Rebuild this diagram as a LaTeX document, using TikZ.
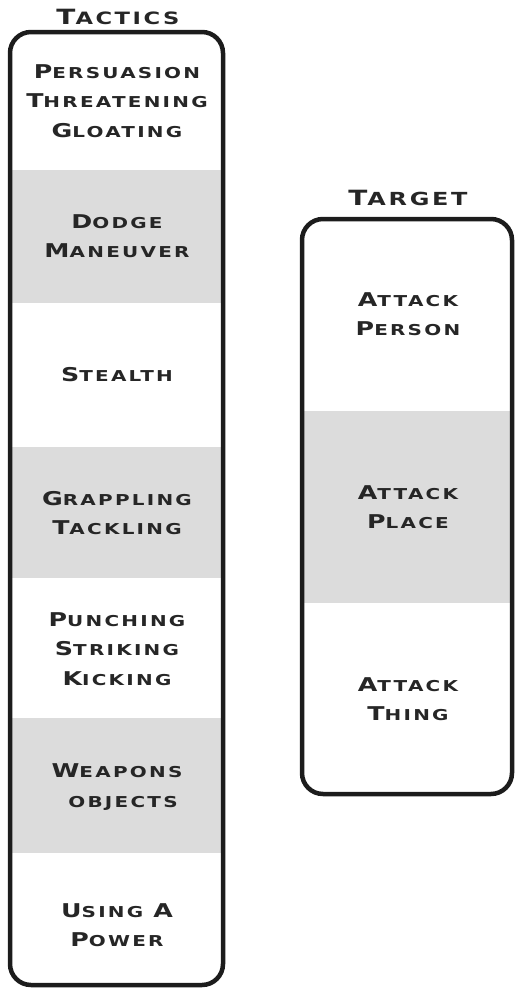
\documentclass[tikz,border=0pt]{standalone}
\usepackage{fontspec}
\newfontfamily\bank[FakeStretch=1.33,LetterSpace=15]{DejaVu Sans}
\definecolor{bandgray}{HTML}{DCDCDC}
\definecolor{ink}{HTML}{1C1C1C}
\definecolor{txt}{HTML}{262626}
\newcommand\bgw[2]{{\fontsize{19}{29}\selectfont #1}{\fontsize{15}{29}\selectfont #2}}
\newcommand\bgs[1]{{\fontsize{15}{29}\selectfont #1}}
\newcommand\bgt[4]{{\fontsize{#3}{#3}\selectfont #1}{\fontsize{#4}{#4}\selectfont #2}}
\begin{document}
\begin{tikzpicture}[x=1pt,y=-1pt,
  band/.style={fill=bandgray,draw=none},
  frame/.style={draw=ink,line width=4.5pt,rounded corners=21pt},
  lbl/.style={text=txt,align=center,font=\bank\bfseries\fontsize{15}{29.5}\selectfont,inner sep=0pt},
  ttl/.style={text=txt,font=\bank\bfseries,inner sep=0pt}]
\useasboundingbox (0,0) rectangle (515,991);
% left column bands
\fill[band] (10,170) rectangle (223,303);
\fill[band] (10,447) rectangle (223,578);
\fill[band] (10,718) rectangle (223,853);
\draw[frame] (10,32) rectangle (223,985);
% right column bands
\fill[band] (302,411) rectangle (512,603);
\draw[frame] (302,219) rectangle (512,794);
% titles
\node[ttl] (tactics) at (118,17) {\bgt{T}{ACTICS}{21}{17}};
\node[ttl] (target) at (408,198) {\bgt{T}{ARGET}{21}{18}};
% left labels
\node[lbl] (t1) at (117,101) {\bgw{P}{ERSUASION}\\\bgw{T}{HREATENING}\\\bgw{G}{LOATING}};
\node[lbl] (t2) at (117,236) {\bgw{D}{ODGE}\\\bgw{M}{ANEUVER}};
\node[lbl] (t3) at (117,375) {\bgw{S}{TEALTH}};
\node[lbl] (t4) at (117,513) {\bgw{G}{RAPPLING}\\\bgw{T}{ACKLING}};
\node[lbl] (t5) at (117,649) {\bgw{P}{UNCHING}\\\bgw{S}{TRIKING}\\\bgw{K}{ICKING}};
\node[lbl] (t6) at (117,787) {\bgw{W}{EAPONS}\\\hspace*{12pt}\bgs{OBJECTS}};
\node[lbl] (t7) at (117,925) {\bgw{U}{SING}\hspace{10pt}\bgw{A}{}\\\bgw{P}{OWER}};
% right labels
\node[lbl] (r1) at (408,314) {\bgw{A}{TTACK}\\\bgw{P}{ERSON}};
\node[lbl] (r2) at (408,507) {\bgw{A}{TTACK}\\\bgw{P}{LACE}};
\node[lbl] (r3) at (408,699) {\bgw{A}{TTACK}\\\bgw{T}{HING}};
\end{tikzpicture}
\end{document}
